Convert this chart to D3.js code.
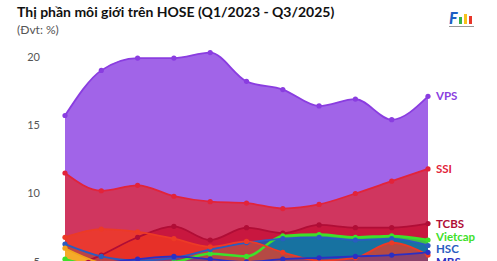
<!DOCTYPE html>
<html>
<head>
<meta charset="utf-8">
<script src="https://cdn.jsdelivr.net/npm/d3@7"></script>
<style>
  body { margin: 0; background: #fff; }
  svg { display: block; font-family: Lato, "Open Sans", sans-serif; }
</style>
</head>
<body>
<div id="chart-area"></div>
<script>
// quarters + market share (%) per broker
var quarters = ["Q1/2023","Q2/2023","Q3/2023","Q4/2023","Q1/2024","Q2/2024","Q3/2024","Q4/2024","Q1/2025","Q2/2025","Q3/2025"];
var vps     = [15.7, 19.0, 19.9, 19.9, 20.3, 18.2, 17.6, 16.4, 16.9, 15.4, 17.1];
var ssi     = [11.5, 10.2, 10.6, 9.8, 9.4, 9.3, 8.9, 9.2, 10.0, 10.9, 11.8];
var tcbs    = [4.4, 5.5, 6.8, 7.6, 6.6, 7.5, 7.1, 7.7, 7.5, 7.5, 7.8];
var vietcap = [5.2, 4.7, 4.9, 5.0, 5.6, 5.4, 6.9, 7.0, 6.8, 6.9, 6.6];
var hsc     = [6.3, 5.4, 5.1, 5.3, 5.9, 6.4, 6.7, 6.8, 6.6, 6.7, 6.2];
var mirae   = [6.8, 7.4, 7.2, 6.7, 6.1, 6.5, 5.7, 5.1, 5.3, 6.4, 5.5];
var vnd     = [6.0, 4.9, 4.5, 4.3, 4.2, 4.0, 3.8, 3.6, 3.5, 3.4, 3.3];
var mbs     = [4.6, 4.9, 5.2, 5.4, 5.2, 5.0, 5.2, 5.3, 5.4, 5.5, 5.7];
var yTicks  = [5, 10, 15, 20];

var W = 497, H = 261;

var series = [
  {name: "VPS",         values: vps,     line: "#8a3de0", fill: "#a164e8", op: 1,    label: true},
  {name: "SSI",         values: ssi,     line: "#e2233a", fill: "#d0365f", op: 1,    label: true},
  {name: "TCBS",        values: tcbs,    line: "#b00d36", fill: "#c8173f", op: 1,    label: true},
  {name: "Vietcap",     values: vietcap, line: "#3ee02a", fill: "#3fbf45", op: 1,    label: true},
  {name: "HSC",         values: hsc,     line: "#2a5cc0", fill: "#0e5fb8", op: 0.8,  label: true},
  {name: "Mirae Asset", values: mirae,   line: "#ec3a26", fill: "#f23a20", op: 0.72, label: false},
  {name: "VNDirect",    values: vnd,     line: "#f2a21c", fill: "#f5aa2a", op: 1,    label: false},
  {name: "MBS",         values: mbs,     line: "#2b2fc4", fill: "#2b2fc4", op: 0.3,  label: true}
];

var x = d3.scalePoint().domain(quarters).range([65, 428]);
var y = d3.scaleLinear().domain([0, 20]).range([330.3, 56.7]);

var svg = d3.select("#chart-area").append("svg").attr("width", W).attr("height", H);

// title
svg.append("text").attr("x", 17).attr("y", 17)
  .attr("font-size", 14).attr("font-weight", 700).attr("fill", "#111")
  .text("Thị phần môi giới trên HOSE (Q1/2023 - Q3/2025)");
svg.append("text").attr("x", 17).attr("y", 34)
  .attr("font-size", 12).attr("fill", "#555")
  .text("(Đvt: %)");

// logo (rough)
var logo = svg.append("g").attr("transform", "translate(449,11)");
logo.append("text").attr("x", 0).attr("y", 13).attr("font-size", 16).attr("font-weight", 900)
  .attr("font-style", "italic").attr("fill", "#1d5fc4").text("F");
[["#37b34a", 10, 6], ["#f6c21b", 15, 3], ["#e8362a", 20, 5]].forEach(function(b) {
  logo.append("rect").attr("x", b[1]).attr("y", b[2]).attr("width", 3).attr("height", 13 - b[2]).attr("fill", b[0]);
});
logo.append("rect").attr("x", 0).attr("y", 15).attr("width", 25).attr("height", 1).attr("fill", "#999");

// y tick labels
svg.selectAll(".tick").data(yTicks).enter().append("text")
  .attr("x", 40).attr("y", function(d) { return y(d); })
  .attr("dy", "0.35em").attr("text-anchor", "end")
  .attr("font-size", 11).attr("fill", "#555")
  .text(function(d) { return d; });

var curve = d3.curveMonotoneX;
var area = d3.area()
  .x(function(d, i) { return x(quarters[i]); })
  .y0(y(0))
  .y1(function(d) { return y(d); })
  .curve(curve);
var line = d3.line()
  .x(function(d, i) { return x(quarters[i]); })
  .y(function(d) { return y(d); })
  .curve(curve);

var plot = svg.append("g");

plot.selectAll(".area").data(series).enter().append("path")
  .attr("d", function(s) { return area(s.values); })
  .attr("fill", function(s) { return s.fill; })
  .attr("fill-opacity", function(s) { return s.op; });

plot.selectAll(".line").data(series).enter().append("path")
  .attr("d", function(s) { return line(s.values); })
  .attr("fill", "none")
  .attr("stroke", function(s) { return s.line; })
  .attr("stroke-width", function(s) { return s.name == "Vietcap" ? 2.5 : 1.8; });

series.forEach(function(s) {
  plot.selectAll(null).data(s.values).enter().append("circle")
    .attr("cx", function(d, i) { return x(quarters[i]); })
    .attr("cy", function(d) { return y(d); })
    .attr("r", 2.6)
    .attr("fill", s.line);
});

// end labels, nudged apart (a label may only rise a few px above its point)
var labels = series.filter(function(s) { return s.label; }).map(function(s) {
  var v = y(s.values[s.values.length - 1]);
  return {s: s, y0: v, y: v};
});
labels.sort(function(a, b) { return a.y0 - b.y0; });
var gap = 12.6, maxUp = 3.5;
for (var k = 0; k < 400; k++) {
  for (var i = 1; i < labels.length; i++) {
    var d = labels[i].y - labels[i - 1].y;
    if (d < gap) {
      labels[i - 1].y = Math.max(labels[i - 1].y - (gap - d) / 2, labels[i - 1].y0 - maxUp);
      labels[i].y = labels[i - 1].y + Math.max(gap, labels[i].y - labels[i - 1].y);
    }
  }
}
svg.selectAll(".lab").data(labels).enter().append("text")
  .attr("x", 436).attr("y", function(d) { return d.y; })
  .attr("dy", "0.35em")
  .attr("font-size", 11.5).attr("font-weight", 700)
  .attr("fill", function(d) { return d.s.line; })
  .text(function(d) { return d.s.name; });
</script>
</body>
</html>
